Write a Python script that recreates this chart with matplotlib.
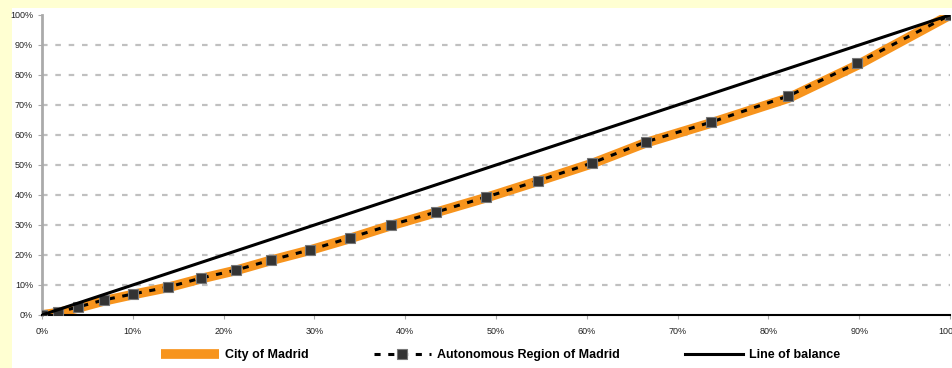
import matplotlib.pyplot as plt
from matplotlib.patches import Rectangle
from matplotlib.ticker import PercentFormatter

# cumulative share (%)
pop_share = [0, 1.8, 4.0, 6.8, 10.0, 13.9, 17.5, 21.4, 25.2, 29.5, 33.9, 38.4,
             43.4, 48.9, 54.6, 60.6, 66.5, 73.7, 82.2, 89.8, 100]
region = [0, 1.0, 2.7, 5.0, 7.0, 9.3, 12.3, 15.0, 18.3, 21.7, 25.7, 30.0,
          34.3, 39.3, 44.7, 50.7, 57.7, 64.3, 73.0, 84.0, 100]
city = [0, 0.8, 2.4, 4.7, 6.8, 9.2, 12.1, 14.9, 18.2, 21.6, 25.5, 29.8,
        34.2, 39.1, 44.6, 50.5, 57.4, 64.0, 72.3, 83.3, 100]
balance = [0, 100]

plt.rcParams['font.family'] = ['Liberation Sans Narrow', 'Liberation Sans', 'DejaVu Sans']

fig = plt.figure(figsize=(9.53, 3.68), dpi=100)
fig.patch.set_facecolor('#FFFFD2')
# white panel behind the chart
fig.patches.append(Rectangle((12 / 953, 0), 1, 1 - 8 / 368, transform=fig.transFigure,
                             facecolor='white', edgecolor='none', zorder=-5))

ax = fig.add_axes([42 / 953, 1 - 315 / 368, 908 / 953, 300 / 368])
ax.set_facecolor('none')
ax.set_zorder(2)

ax.plot(pop_share, city, color='#F7941D', lw=7, solid_capstyle='butt', label='City of Madrid', zorder=2)
ax.plot(pop_share, region, color='black', lw=2.2, ls=(0, (2, 2.5)), marker='s', ms=6.5,
        markerfacecolor='#333333', markeredgecolor='#777777', mew=0.8,
        label='Autonomous Region of Madrid', zorder=3)
ax.plot(balance, balance, color='black', lw=2.2, label='Line of balance', zorder=4)

ax.set_xlim(0, 100)
ax.set_ylim(0, 100)
ax.set_xticks(range(0, 101, 10))
ax.set_yticks(range(0, 101, 10))
ax.xaxis.set_major_formatter(PercentFormatter(decimals=0))
ax.yaxis.set_major_formatter(PercentFormatter(decimals=0))
ax.tick_params(labelsize=6.5, length=3, color='#aaaaaa', labelcolor='#222222')
ax.tick_params(axis='x', pad=6)

for y in range(10, 100, 10):
    ax.axhline(y, color='#c0c0c0', lw=1.6, ls=(0, (2.5, 3.5)), zorder=1)

for s in ['top', 'right']:
    ax.spines[s].set_visible(False)
ax.spines['left'].set_color('#aaaaaa')
ax.spines['left'].set_linewidth(2)
ax.spines['bottom'].set_color('black')
ax.spines['bottom'].set_linewidth(1.5)

leg = fig.legend(loc='center left', bbox_to_anchor=(150 / 953, 1 - 355 / 368), ncol=3, frameon=False,
                 handlelength=4.6, columnspacing=5.2, handletextpad=0.5,
                 prop={'size': 9, 'weight': 'bold'})

fig.savefig('out.png', dpi=100, facecolor=fig.get_facecolor())
